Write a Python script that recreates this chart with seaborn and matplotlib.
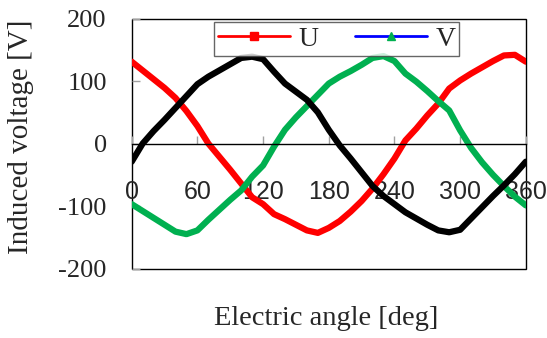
import numpy as np
import pandas as pd
import matplotlib
matplotlib.use("Agg")
import matplotlib.pyplot as plt
from matplotlib.lines import Line2D
import seaborn as sns

angle = list(range(0, 361, 10))
u_volt = [131, 117, 103, 89, 73, 52, 28, 0, -21, -42, -64, -86, -97, -113, -121,
          -130, -139, -143, -135, -124, -109, -92, -72, -49, -24, 5, 24, 45, 64,
          88, 101, 112, 122, 132, 141, 142, 131]
v_volt = [-97, -108, -119, -130, -141, -145, -139, -122, -106, -90, -75, -53, -35,
          -5, 22, 42, 60, 78, 96, 107, 116, 126, 137, 140, 132, 112, 99, 84, 68,
          53, 21, -7, -30, -50, -68, -85, -99]
w_volt = [-29, 0, 20, 38, 57, 76, 95, 107, 117, 127, 137, 139, 135, 115, 96, 83,
          70, 50, 22, -3, -24, -46, -68, -84, -97, -110, -120, -130, -139, -142,
          -138, -120, -102, -84, -67, -49, -29]
phases = ["U", "V", "W"]
colors = ["#FF0000", "#00B050", "#000000"]
x_ticks = [0, 60, 120, 180, 240, 300, 360]
y_ticks = [-200, -100, 0, 100, 200]

df = pd.DataFrame({
    "angle": angle * 3,
    "voltage": u_volt + v_volt + w_volt,
    "phase": ["U"] * len(angle) + ["V"] * len(angle) + ["W"] * len(angle),
})

sns.set_style("white")
plt.rcParams["font.family"] = ["Liberation Serif", "DejaVu Serif"]

fig = plt.figure(figsize=(5.47, 3.38), dpi=100)
ax = fig.add_axes([0.2408, 0.2056, 0.7205, 0.7394])

sns.lineplot(data=df, x="angle", y="voltage", hue="phase", hue_order=phases,
             palette=dict(zip(phases, colors)), linewidth=4.5, legend=False,
             ax=ax, solid_capstyle="round", solid_joinstyle="round")

ax.set_xlim(0, 360)
ax.set_ylim(-200, 200)

for s in ["left", "right", "top"]:
    ax.spines[s].set_visible(False)
ax.spines["bottom"].set_position(("data", 0))
ax.spines["bottom"].set_color("black")
ax.spines["bottom"].set_linewidth(1.0)
ax.patch.set_edgecolor("black")
ax.patch.set_linewidth(1.0)

ax.tick_params(axis="x", direction="in", length=6, width=1, color="#A0A0A0",
               pad=26, bottom=True, labelsize=18)
ax.tick_params(axis="y", direction="in", length=6, width=1, color="#A0A0A0",
               pad=18, left=True, labelsize=19)

ax.set_xticks(x_ticks)
ax.set_yticks(y_ticks)
ax.set_yticklabels([str(v) for v in y_ticks])
ax.set_xticklabels([str(v) for v in x_ticks])
for lab in ax.get_xticklabels():
    lab.set_fontfamily(["Liberation Sans", "DejaVu Sans"])
    lab.set_fontsize(18)
for lab in ax.get_yticklabels():
    lab.set_fontsize(19)

ax.set_xlabel("")
ax.set_ylabel("")
fig.text(0.596, 0.059, "Electric angle [deg]", ha="center", va="center", fontsize=20.5)
fig.text(0.038, 0.595, "Induced voltage [V]", ha="center", va="center",
         rotation=90, fontsize=21)

handles = [
    Line2D([], [], color="#FF0000", lw=2, marker="s", markersize=6,
           markerfacecolor="#FF0000", markeredgecolor="#FF0000"),
    Line2D([], [], color="#0000FF", lw=2, marker="^", markersize=6,
           markerfacecolor="#00B050", markeredgecolor="#00B050"),
]
leg = ax.legend(handles, ["U", "V"], ncol=2, loc="upper center",
                bbox_to_anchor=(0.52, 0.985), fontsize=20, frameon=True,
                fancybox=False, handlelength=2.6, columnspacing=1.3,
                handletextpad=0.3, borderpad=0.15, borderaxespad=0)
leg.get_frame().set_edgecolor("#404040")
leg.get_frame().set_linewidth(1.0)

fig.savefig("out.png", dpi=100)
